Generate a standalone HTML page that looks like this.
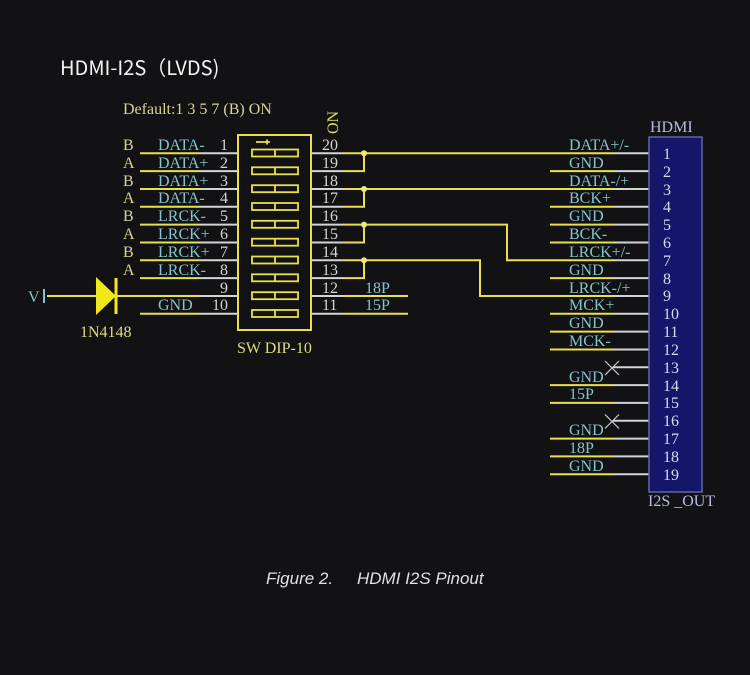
<!DOCTYPE html>
<html><head><meta charset="utf-8"><style>
html,body{margin:0;padding:0;background:#121214;}
svg{display:block}
.s{font-family:"Liberation Serif",serif;font-size:16px}
.t{fill:#86c3cc}.n{fill:#d6d6cf}.y{fill:#e0dc80}
</style></head><body>
<svg width="750" height="675" viewBox="0 0 750 675" xmlns="http://www.w3.org/2000/svg">
<rect width="750" height="675" fill="#121214"/>
<text x="60" y="75" font-family="'Noto Sans CJK SC',sans-serif" font-size="20" fill="#f4f4f4">HDMI-I2S（LVDS)</text>
<text x="123" y="114" class="s" fill="#d8d49a">Default:1 3 5 7 (B) ON</text>
<text class="s" fill="#e0dc60" transform="translate(338,134) rotate(-90)">ON</text>

<g stroke-width="2" fill="none">
<g stroke="#e8e24a">
<path d="M140 153.3H200M140 171.1H200M140 189H200M140 206.8H200M140 224.6H200M140 242.5H200M140 260.3H200M140 278.1H200M117 296H200M140 313.8H200"/>
<path d="M47 296H97"/>
</g>
<g stroke="#d4d4d4"><path d="M200 153.3H238M200 171.1H238M200 189H238M200 206.8H238M200 224.6H238M200 242.5H238M200 260.3H238M200 278.1H238M200 296H238M200 313.8H238"/>
<path d="M311 153.3H343M311 171.1H343M311 189H343M311 206.8H343M311 224.6H343M311 242.5H343M311 260.3H343M311 278.1H343M311 296H343M311 313.8H343"/>
<path d="M613 153.3H649M613 171.1H649M613 189H649M613 206.8H649M613 224.6H649M613 242.5H649M613 260.3H649M613 278.1H649M613 296H649M613 313.8H649M613 331.6H649M613 349.5H649M613 367.3H649M613 385.1H649M613 402.9H649M613 420.8H649M613 438.6H649M613 456.4H649M613 474.3H649"/>
</g>
<g stroke="#e8e24a">
<path d="M343 153.3H613M343 171.1H364V153.3M343 189H613M343 206.8H364V189M343 224.6H507V260.3H613M343 242.5H364V224.6M343 260.3H480V296H613M343 278.1H364V260.3M343 296H408M343 313.8H408"/>
<path d="M550 171.1H613M550 206.8H613M550 224.6H613M550 242.5H613M550 278.1H613M550 313.8H613M550 331.6H613M550 349.5H613M550 385.1H613M550 402.9H613M550 438.6H613M550 456.4H613M550 474.3H613"/>
<rect x="238" y="135" width="73" height="195"/>
</g>
<g stroke="#e8e24a" stroke-width="1.8">
<rect x="252" y="149.5" width="46" height="7"/><rect x="252" y="167.3" width="46" height="7"/><rect x="252" y="185.2" width="46" height="7"/><rect x="252" y="203" width="46" height="7"/><rect x="252" y="220.8" width="46" height="7"/><rect x="252" y="238.7" width="46" height="7"/><rect x="252" y="256.5" width="46" height="7"/><rect x="252" y="274.3" width="46" height="7"/><rect x="252" y="292.2" width="46" height="7"/><rect x="252" y="310" width="46" height="7"/>
<path d="M275 149.5v7M275 167.3v7M275 185.2v7M275 203v7M275 220.8v7M275 238.7v7M275 256.5v7M275 274.3v7M275 292.2v7M275 310v7"/>
<path d="M256 142H270M267 139.5v5"/>
</g>
<g stroke="#cfcfcf" stroke-width="1.2"><path d="M605 361l14 14M605 375l14-14M605 414.5l14 14M605 428.5l14-14"/></g>
</g>
<path d="M96 277L116 296L96 315Z" fill="#f0e81c"/>
<path d="M116 278V314" stroke="#f0e81c" stroke-width="3"/>
<path d="M44 289V303" stroke="#86c3cc" stroke-width="2"/>
<text x="28" y="302" class="s t">V</text>
<text x="80" y="337" class="s y">1N4148</text>
<circle cx="364" cy="153.3" r="3" fill="#eee87a"/><circle cx="364" cy="189" r="3" fill="#eee87a"/><circle cx="364" cy="224.6" r="3" fill="#eee87a"/><circle cx="364" cy="260.3" r="3" fill="#eee87a"/>
<text x="237" y="353" class="s y">SW DIP-10</text>

<g class="s" fill="#d8d49a">
<text x="123" y="150">B</text><text x="123" y="168">A</text><text x="123" y="186">B</text><text x="123" y="203">A</text><text x="123" y="221">B</text><text x="123" y="239">A</text><text x="123" y="257">B</text><text x="123" y="275">A</text>
</g>
<g class="s t">
<text x="158" y="150">DATA-</text><text x="158" y="168">DATA+</text><text x="158" y="186">DATA+</text><text x="158" y="203">DATA-</text><text x="158" y="221">LRCK-</text><text x="158" y="239">LRCK+</text><text x="158" y="257">LRCK+</text><text x="158" y="275">LRCK-</text><text x="158" y="310">GND</text>
<text x="365" y="293">18P</text><text x="365" y="310">15P</text>
</g>
<g class="s n" text-anchor="end">
<text x="228" y="150">1</text><text x="228" y="168">2</text><text x="228" y="186">3</text><text x="228" y="203">4</text><text x="228" y="221">5</text><text x="228" y="239">6</text><text x="228" y="257">7</text><text x="228" y="275">8</text><text x="228" y="293">9</text><text x="228" y="310">10</text>
</g>
<g class="s n">
<text x="322" y="150">20</text><text x="322" y="168">19</text><text x="322" y="186">18</text><text x="322" y="203">17</text><text x="322" y="221">16</text><text x="322" y="239">15</text><text x="322" y="257">14</text><text x="322" y="275">13</text><text x="322" y="293">12</text><text x="322" y="310">11</text>
</g>
<rect x="649" y="137" width="53" height="355" fill="#15156a" stroke="#5a6aa8" stroke-width="1.5"/>
<text x="650" y="132" class="s" fill="#b8bce0">HDMI</text>
<text x="648" y="506" class="s" fill="#b8bce0">I2S _OUT</text>
<g class="s" fill="#d8dcf0">
<text x="663" y="159">1</text><text x="663" y="177">2</text><text x="663" y="195">3</text><text x="663" y="212">4</text><text x="663" y="230">5</text><text x="663" y="248">6</text><text x="663" y="266">7</text><text x="663" y="284">8</text><text x="663" y="301">9</text><text x="663" y="319">10</text><text x="663" y="337">11</text><text x="663" y="355">12</text><text x="663" y="373">13</text><text x="663" y="391">14</text><text x="663" y="408">15</text><text x="663" y="426">16</text><text x="663" y="444">17</text><text x="663" y="462">18</text><text x="663" y="480">19</text>
</g>
<g class="s t">
<text x="569" y="150">DATA+/-</text><text x="569" y="168">GND</text><text x="569" y="186">DATA-/+</text><text x="569" y="203">BCK+</text><text x="569" y="221">GND</text><text x="569" y="239">BCK-</text><text x="569" y="257">LRCK+/-</text><text x="569" y="275">GND</text><text x="569" y="293">LRCK-/+</text><text x="569" y="310">MCK+</text><text x="569" y="328">GND</text><text x="569" y="346">MCK-</text><text x="569" y="382">GND</text><text x="569" y="399">15P</text><text x="569" y="435">GND</text><text x="569" y="453">18P</text><text x="569" y="471">GND</text>
</g>
<text x="266" y="584" font-family="'Liberation Sans',sans-serif" font-style="italic" font-size="17" fill="#e0e0e0">Figure 2.<tspan x="357">HDMI I2S Pinout</tspan></text>
</svg>
</body></html>
